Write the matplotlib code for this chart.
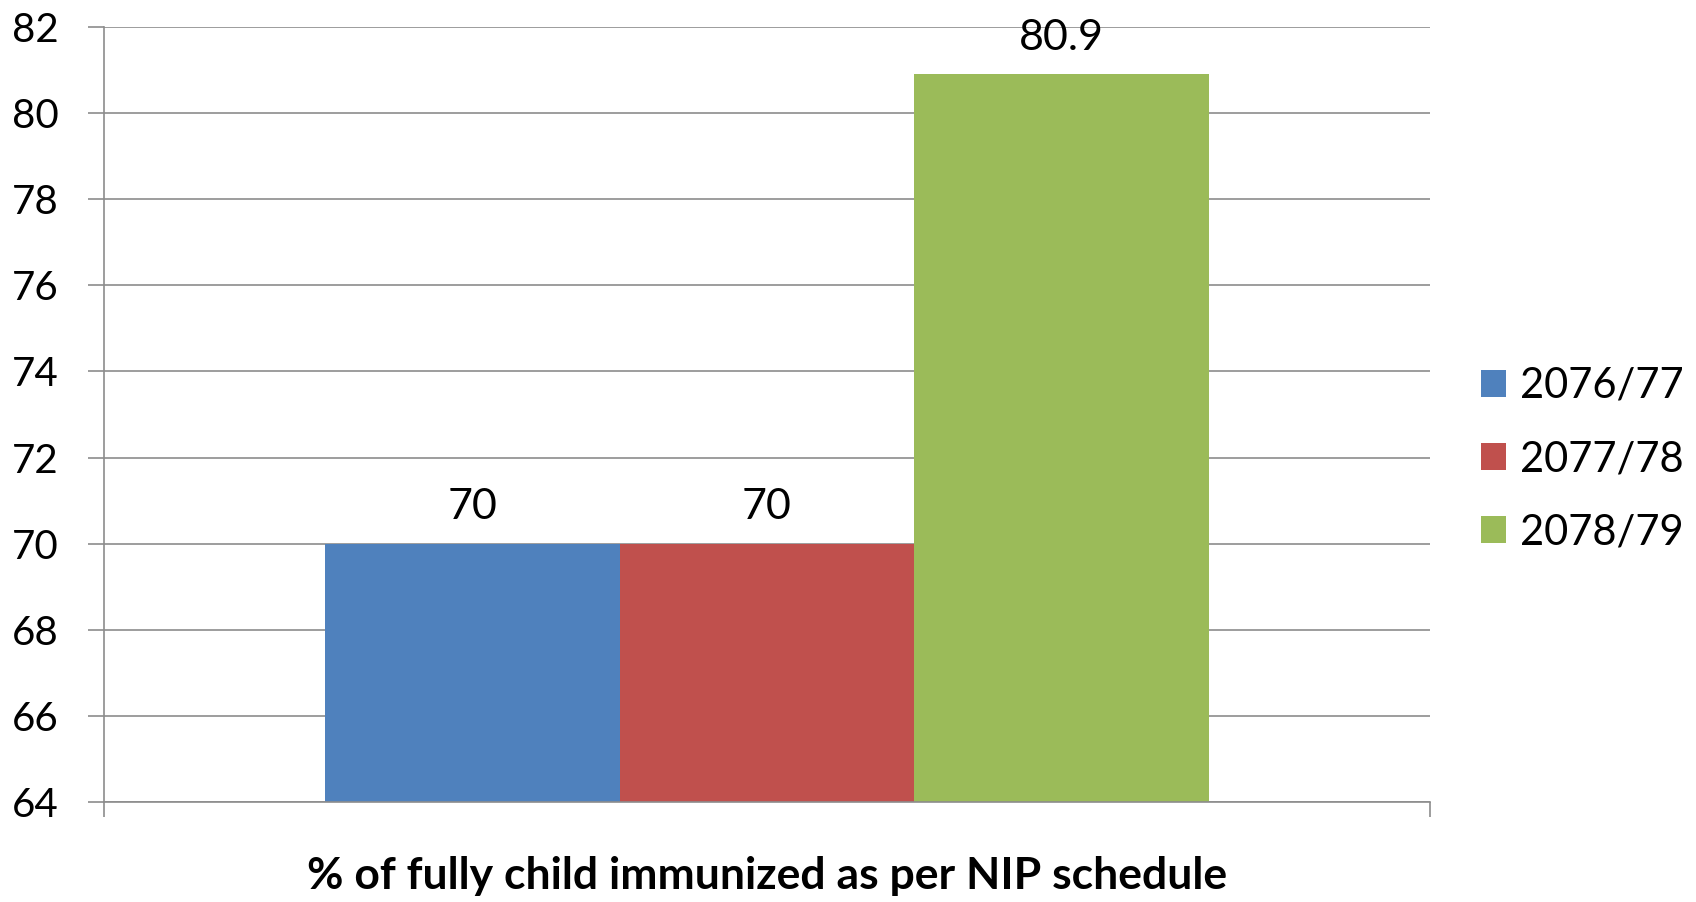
import numpy as np
import matplotlib.pyplot as plt

plt.rcParams['font.family'] = ['Lato', 'DejaVu Sans']

# data
years = ["2076/77", "2077/78", "2078/79"]
values = [70, 70, 80.9]
labels = ["70", "70", "80.9"]
colors = ["#4F81BD", "#C0504D", "#9BBB59"]
category = "% of fully child immunized as per NIP schedule"

grey = "#8C8C8C"

fig = plt.figure(figsize=(16.96, 9.02), dpi=100)
ax = fig.add_axes([0.0613, 0.1109, 0.8432 - 0.0613, 0.9701 - 0.1109])

bw = 2 / 9
for i in range(len(years)):
    x = 0.5 + (i - 1) * bw
    ax.bar(x, values[i] - 64, bottom=64, width=bw, color=colors[i], label=years[i], zorder=2)
    ax.text(x, values[i] + 0.4, labels[i], ha="center", va="bottom", fontsize=31, color="black")

ax.set_xlim(0, 1)
ax.set_ylim(64, 82)
ax.set_yticks(np.arange(64, 83, 2))
ax.set_xticks([0, 1])
ax.set_xticklabels(["", ""])
ax.yaxis.grid(True, color=grey, linewidth=1.2, zorder=0)
ax.set_axisbelow(True)

for s in ["top", "right"]:
    ax.spines[s].set_visible(False)
for s in ["left", "bottom"]:
    ax.spines[s].set_color(grey)
    ax.spines[s].set_linewidth(1.2)

ax.tick_params(axis="y", direction="out", length=11.5, width=1.2, color=grey, labelsize=29, pad=21)
ax.tick_params(axis="x", direction="out", length=11, width=1.2, color=grey)

fig.text(0.452, 0.029, category, ha="center", va="center", fontsize=32, fontweight="bold")

fig.legend(loc="center left", bbox_to_anchor=(0.873, 0.491), frameon=False, fontsize=30,
           handlelength=0.62, handleheight=0.62, handletextpad=0.32, labelspacing=0.85,
           borderaxespad=0, borderpad=0)

fig.savefig("out.png", dpi=100)
